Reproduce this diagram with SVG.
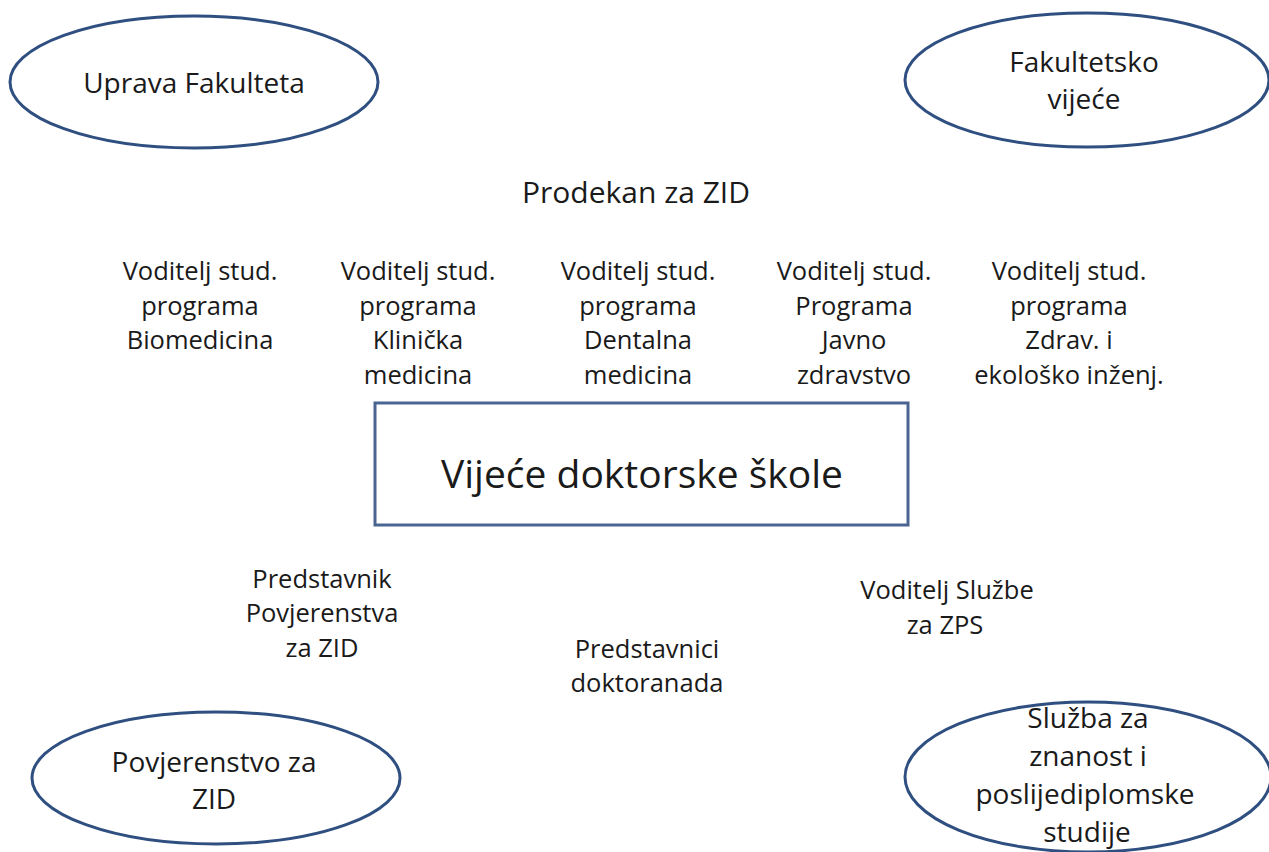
<svg xmlns="http://www.w3.org/2000/svg" width="1269" height="852" viewBox="0 0 1269 852">
<style>
.ell{fill:#ffffff;stroke:#2f4f80;stroke-width:3}
.box{fill:#ffffff;stroke:#4a6591;stroke-width:3}
text{font-family:"Open Sans","Noto Sans","Liberation Sans",sans-serif;fill:#1a1a1a;text-anchor:middle}
.t28{font-size:28px}
.t25{font-size:25.5px}
.t30{font-size:30px}
.t39{font-size:39px}
</style>
<rect x="0" y="0" width="1269" height="852" fill="#ffffff"/>
<g id="connectors"></g>
<g id="uprava">
<ellipse class="ell" cx="194" cy="82" rx="184" ry="66"/>
<text class="t28" x="194" y="93">Uprava Fakulteta</text>
</g>
<g id="fakultetsko-vijece">
<ellipse class="ell" cx="1087" cy="80" rx="182" ry="67"/>
<text class="t28" x="1084" y="72">Fakultetsko</text>
<text class="t28" x="1084" y="108.5">vijeće</text>
</g>
<g id="prodekan">
<text class="t30" x="636" y="203">Prodekan za ZID</text>
</g>
<g id="voditelj-biomedicina">
<text class="t25" x="200" y="280">Voditelj stud.</text>
<text class="t25" x="200" y="315">programa</text>
<text class="t25" x="200" y="349">Biomedicina</text>
</g>
<g id="voditelj-klinicka">
<text class="t25" x="418" y="280">Voditelj stud.</text>
<text class="t25" x="418" y="315">programa</text>
<text class="t25" x="418" y="349">Klinička</text>
<text class="t25" x="418" y="384">medicina</text>
</g>
<g id="voditelj-dentalna">
<text class="t25" x="638" y="280">Voditelj stud.</text>
<text class="t25" x="638" y="315">programa</text>
<text class="t25" x="638" y="349">Dentalna</text>
<text class="t25" x="638" y="384">medicina</text>
</g>
<g id="voditelj-javno">
<text class="t25" x="854" y="280">Voditelj stud.</text>
<text class="t25" x="854" y="315">Programa</text>
<text class="t25" x="854" y="349">Javno</text>
<text class="t25" x="854" y="384">zdravstvo</text>
</g>
<g id="voditelj-zdrav">
<text class="t25" x="1069" y="280">Voditelj stud.</text>
<text class="t25" x="1069" y="315">programa</text>
<text class="t25" x="1069" y="349">Zdrav. i</text>
<text class="t25" x="1069" y="384">ekološko inženj.</text>
</g>
<g id="vijece-doktorske-skole">
<rect class="box" x="375" y="403" width="533" height="122"/>
<text class="t39" x="642" y="488">Vijeće doktorske škole</text>
</g>
<g id="predstavnik-povjerenstva">
<text class="t25" x="322" y="588">Predstavnik</text>
<text class="t25" x="322" y="622">Povjerenstva</text>
<text class="t25" x="322" y="657">za ZID</text>
</g>
<g id="predstavnici-doktoranada">
<text class="t25" x="647" y="658">Predstavnici</text>
<text class="t25" x="647" y="692">doktoranada</text>
</g>
<g id="voditelj-sluzbe">
<text class="t25" x="947" y="599">Voditelj Službe</text>
<text class="t25" x="945" y="634">za ZPS</text>
</g>
<g id="povjerenstvo">
<ellipse class="ell" cx="216" cy="778" rx="184" ry="66"/>
<text class="t28" x="214" y="772">Povjerenstvo za</text>
<text class="t28" x="214" y="809">ZID</text>
</g>
<g id="sluzba">
<ellipse class="ell" cx="1088" cy="777" rx="183" ry="75"/>
<text class="t28" x="1088" y="728">Služba za</text>
<text class="t28" x="1088" y="766">znanost i</text>
<text class="t28" x="1085" y="804">poslijediplomske</text>
<text class="t28" x="1087" y="842">studije</text>
</g>
</svg>
